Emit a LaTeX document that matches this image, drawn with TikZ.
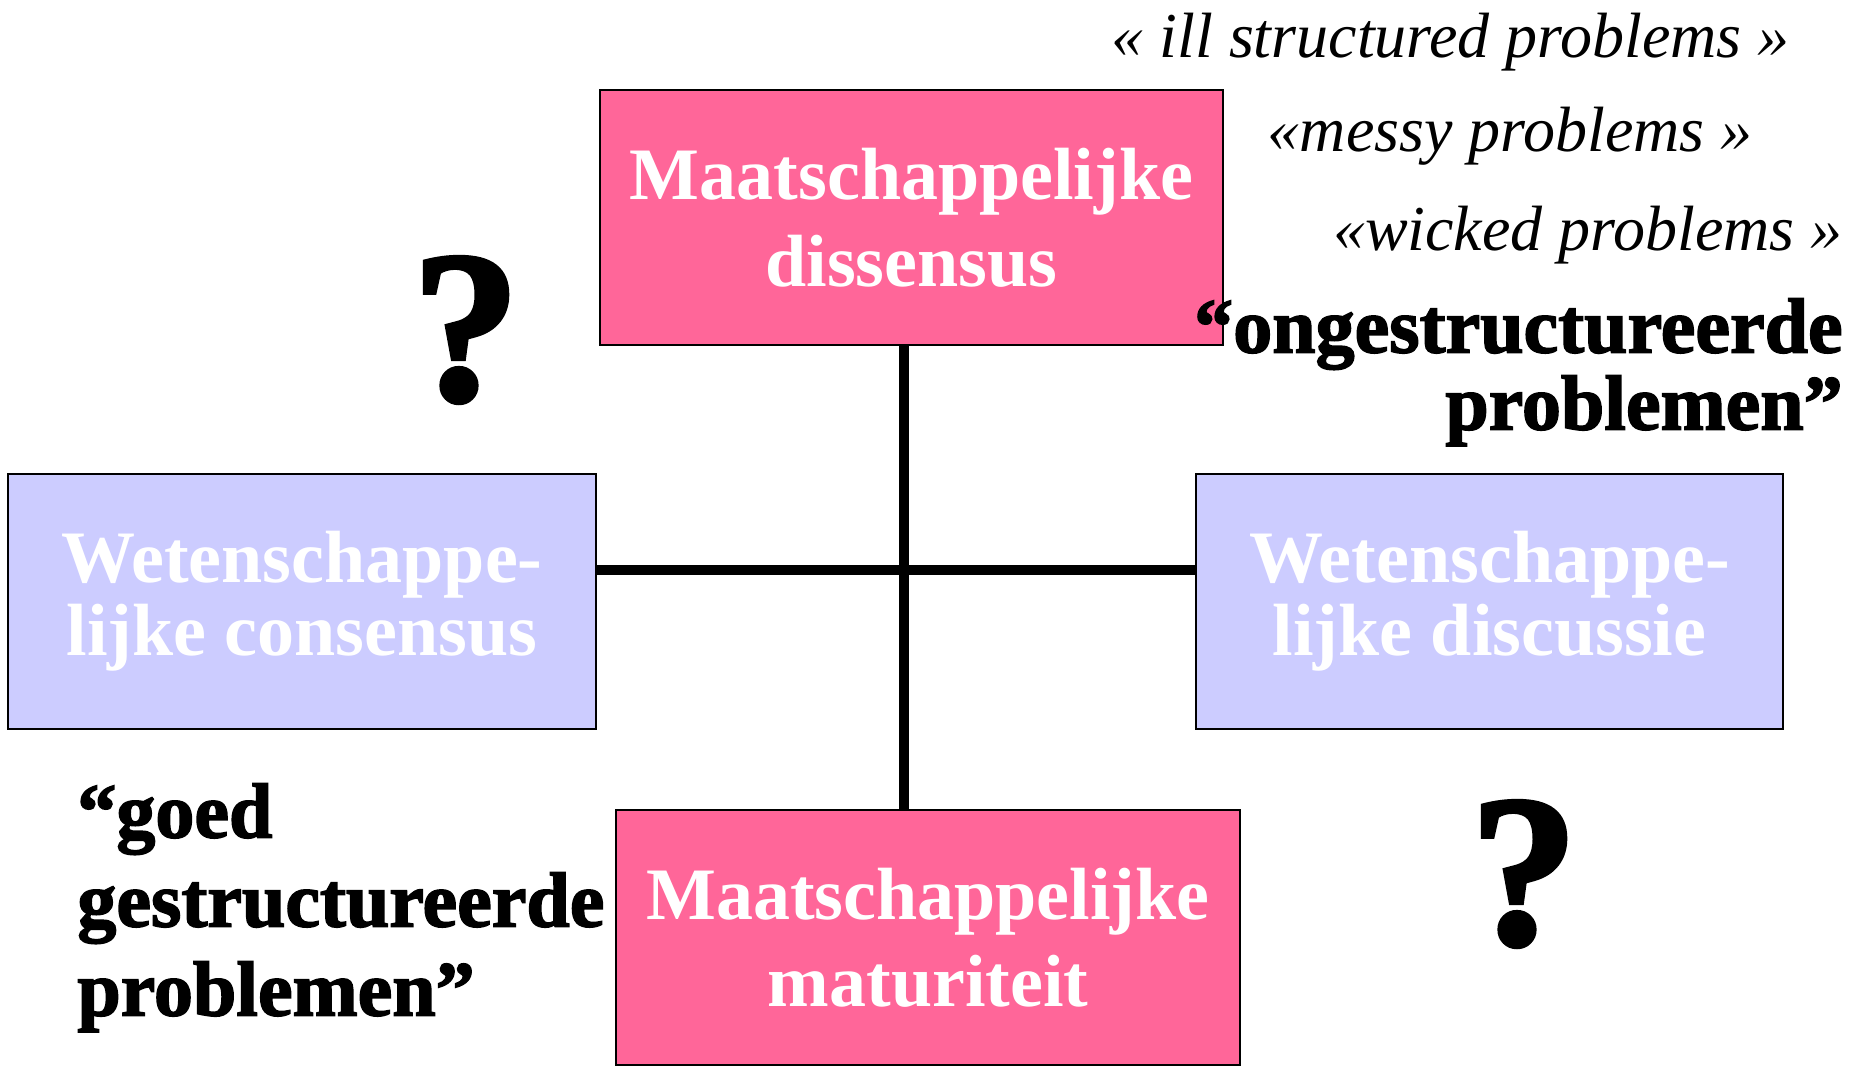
\documentclass[tikz,border=0pt]{standalone}
\usepackage{fontspec}
\setmainfont{Liberation Serif}
\newfontfamily\heavyfont[FakeBold=2]{Liberation Serif Bold}

\definecolor{maatpink}{RGB}{255,102,153}
\definecolor{wetblue}{RGB}{204,204,255}

\tikzset{
  pinkbox/.style={draw=black, line width=1pt, fill=maatpink, text=white,
    minimum width=311.5pt, minimum height=127.5pt, inner sep=0pt, align=center,
    font=\bfseries\fontsize{37}{43.5}\selectfont},
  bluebox/.style={pinkbox, fill=wetblue, font=\bfseries\fontsize{37}{36.5}\selectfont},
  axisline/.style={line width=5pt, line cap=butt},
  englabel/.style={anchor=base east, inner sep=0pt,
    font=\itshape\fontsize{32}{32}\selectfont},
  heavylabel/.style={inner sep=0pt, font=\heavyfont\fontsize{39}{38.5}\selectfont},
  quest/.style={anchor=base, inner sep=0pt, font=\heavyfont\fontsize{108}{108}\selectfont}
}

\begin{document}
\begin{tikzpicture}[x=0.5pt,y=-0.5pt]
\useasboundingbox (0,0) rectangle (1855,1067);

% the four boxes
\node[pinkbox] (dissensus) at (911.5,217.5) {Maatschappelijke\\dissensus};
\node[bluebox, minimum width=294pt] (consensus) at (302,601.5) {Wetenschappe-\\lijke consensus};
\node[bluebox, minimum width=293.5pt] (discussie) at (1489.5,601.5) {Wetenschappe-\\lijke discussie};
\node[pinkbox, minimum width=312pt] (maturiteit) at (928,937.5) {Maatschappelijke\\maturiteit};

% the cross
\coordinate (cross) at (904,570);
\draw[axisline] (dissensus.south -| cross) -- (maturiteit.north -| cross);
\draw[axisline] (consensus.east |- cross) -- (discussie.west |- cross);

% english terms
\node[englabel] (ill) at (1790,57) {« ill structured problems »};
\node[englabel] (messy) at (1753,151) {«messy problems »};
\node[englabel] (wicked) at (1843,250) {«wicked problems »};

% dutch terms
\node[heavylabel, anchor=north east, align=right] (onge) at (1843,298)
  {“ongestructureerde\\problemen”};
\node[heavylabel, anchor=north west, align=left, font=\heavyfont\fontsize{39}{44.5}\selectfont]
  (goed) at (77,783) {“goed\\gestructureerde\\problemen”};

% question marks
\node[quest] (vraag1) at (466,400) {?};
\node[quest] (vraag2) at (1524,944) {?};
\end{tikzpicture}
\end{document}
